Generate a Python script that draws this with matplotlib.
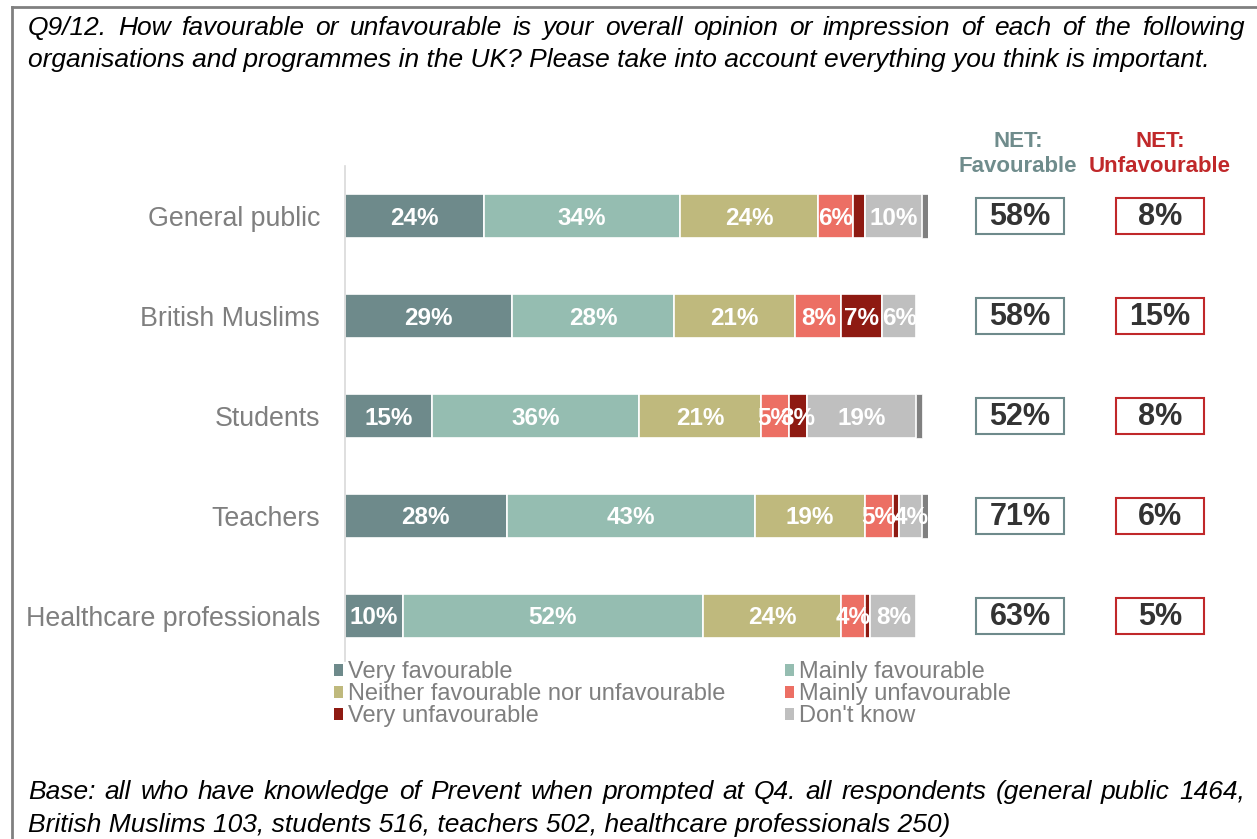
import matplotlib.pyplot as plt
from matplotlib.patches import Patch, Rectangle
from matplotlib.lines import Line2D
from matplotlib.transforms import blended_transform_factory

plt.rcParams['font.family'] = ['Liberation Sans', 'DejaVu Sans']

categories = ["General public", "British Muslims", "Students", "Teachers",
              "Healthcare professionals"]
very_fav = [24, 29, 15, 28, 10]
mainly_fav = [34, 28, 36, 43, 52]
neither = [24, 21, 21, 19, 24]
mainly_unfav = [6, 8, 5, 5, 4]
very_unfav = [2, 7, 3, 1, 1]
dont_know = [10, 6, 19, 4, 8]
other = [1, 0, 1, 1, 0]
net_fav = [58, 58, 52, 71, 63]
net_unfav = [8, 15, 8, 6, 5]

series = [
    ("Very favourable", very_fav, "#6e8a8b"),
    ("Mainly favourable", mainly_fav, "#95bdb1"),
    ("Neither favourable nor unfavourable", neither, "#bfb97d"),
    ("Mainly unfavourable", mainly_unfav, "#ec6f64"),
    ("Very unfavourable", very_unfav, "#8e1a12"),
    ("Don't know", dont_know, "#bfbfbf"),
]

W, H = 1257, 839
fig = plt.figure(figsize=(W / 100, H / 100), dpi=100)
renderer = fig.canvas.get_renderer()


def justified_line(text, x0, x1, y, **kw):
    """Spread the words of one line evenly between x0 and x1 (pixels)."""
    words = text.split()
    arts = [fig.text(0, 1 - y / H, w, ha="left", va="center", **kw) for w in words]
    widths = [a.get_window_extent(renderer).width for a in arts]
    gap = (x1 - x0 - sum(widths)) / (len(words) - 1)
    x = x0
    for a, w in zip(arts, widths):
        a.set_x(x / W)
        x += w + gap


def plain_line(text, x0, y, **kw):
    fig.text(x0 / W, 1 - y / H, text, ha="left", va="center", **kw)


# frame lines (top and left only)
fig.add_artist(Line2D([12 / W, 1], [1 - 7 / H, 1 - 7 / H], color="#808080", lw=2))
fig.add_artist(Line2D([12 / W, 12 / W], [0, 1 - 7 / H], color="#808080", lw=2))

note_style = dict(fontsize=19, style="italic", color="black")
justified_line("Q9/12. How favourable or unfavourable is your overall opinion or "
               "impression of each of the following", 28, 1245, 28, **note_style)
plain_line("organisations and programmes in the UK? Please take into account "
           "everything you think is important.", 28, 60, **note_style)
justified_line("Base: all who have knowledge of Prevent when prompted at Q4. all "
               "respondents (general public 1464,", 28, 1245, 792, **note_style)
plain_line("British Muslims 103, students 516, teachers 502, healthcare "
           "professionals 250)", 28, 825, **note_style)

ax = fig.add_axes([345 / W, (H - 661) / H, 583 / W, 495 / H])
ax.set_xlim(0, 101)
ax.set_ylim(4.45, -0.5)
ypos = list(range(len(categories)))

left = [0] * len(categories)
for name, vals, color in series:
    ax.barh(ypos, vals, left=left, height=0.44, color=color,
            edgecolor="white", linewidth=1.2)
    for i, v in enumerate(vals):
        if v >= 3:
            ax.text(left[i] + v / 2, ypos[i] + 0.02, f"{v}%", ha="center",
                    va="center", color="white", fontsize=17.5, fontweight="bold")
    left = [l + v for l, v in zip(left, vals)]
ax.barh(ypos, other, left=left, height=0.44, color="#808080",
        edgecolor="white", linewidth=0.5)

ax.set_yticks(ypos)
ax.set_yticklabels(categories, fontsize=19.3, color="#7f7f7f")
ax.tick_params(axis="y", length=0, pad=18)
ax.set_xticks([])
for s in ["top", "right", "bottom"]:
    ax.spines[s].set_visible(False)
ax.spines["left"].set_color("#d9d9d9")
ax.spines["left"].set_linewidth(1.2)

# NET columns
tr = blended_transform_factory(fig.transFigure, ax.transData)
fav_col, unfav_col = "#6e8a8b", "#c0282a"
fig.text(1018 / W, 1 - 154 / H, "NET:\nFavourable", ha="center", va="center",
         color="#6f8c8c", fontsize=16, fontweight="bold", linespacing=1.3)
fig.text(1160 / W, 1 - 154 / H, "NET:\nUnfavourable", ha="center", va="center",
         color=unfav_col, fontsize=16, fontweight="bold", linespacing=1.3)
for i in ypos:
    for cx, val, ec in [(1020, net_fav[i], fav_col), (1160, net_unfav[i], unfav_col)]:
        ax.add_patch(Rectangle(((cx - 44) / W, i - 0.18), 88 / W, 0.36,
                               transform=tr, facecolor="white", edgecolor=ec,
                               linewidth=1.5, clip_on=False))
        ax.text(cx / W, i + 0.01, f"{val}%", transform=tr, ha="center",
                va="center", fontsize=22, fontweight="bold", color="#333333",
                clip_on=False)

handles = [Patch(facecolor=c, label=n) for n, _, c in series]
order = [0, 2, 4, 1, 3, 5]
fig.legend([handles[k] for k in order], [series[k][0] for k in order],
           loc="upper left", bbox_to_anchor=(334 / W, 1 - 661 / H), ncol=2,
           frameon=False, fontsize=17, handlelength=0.4, handleheight=0.4,
           handletextpad=0.2, labelspacing=0.0, columnspacing=2.5,
           borderpad=0, borderaxespad=0, labelcolor="#7f7f7f")

fig.savefig("out.png", dpi=100)
